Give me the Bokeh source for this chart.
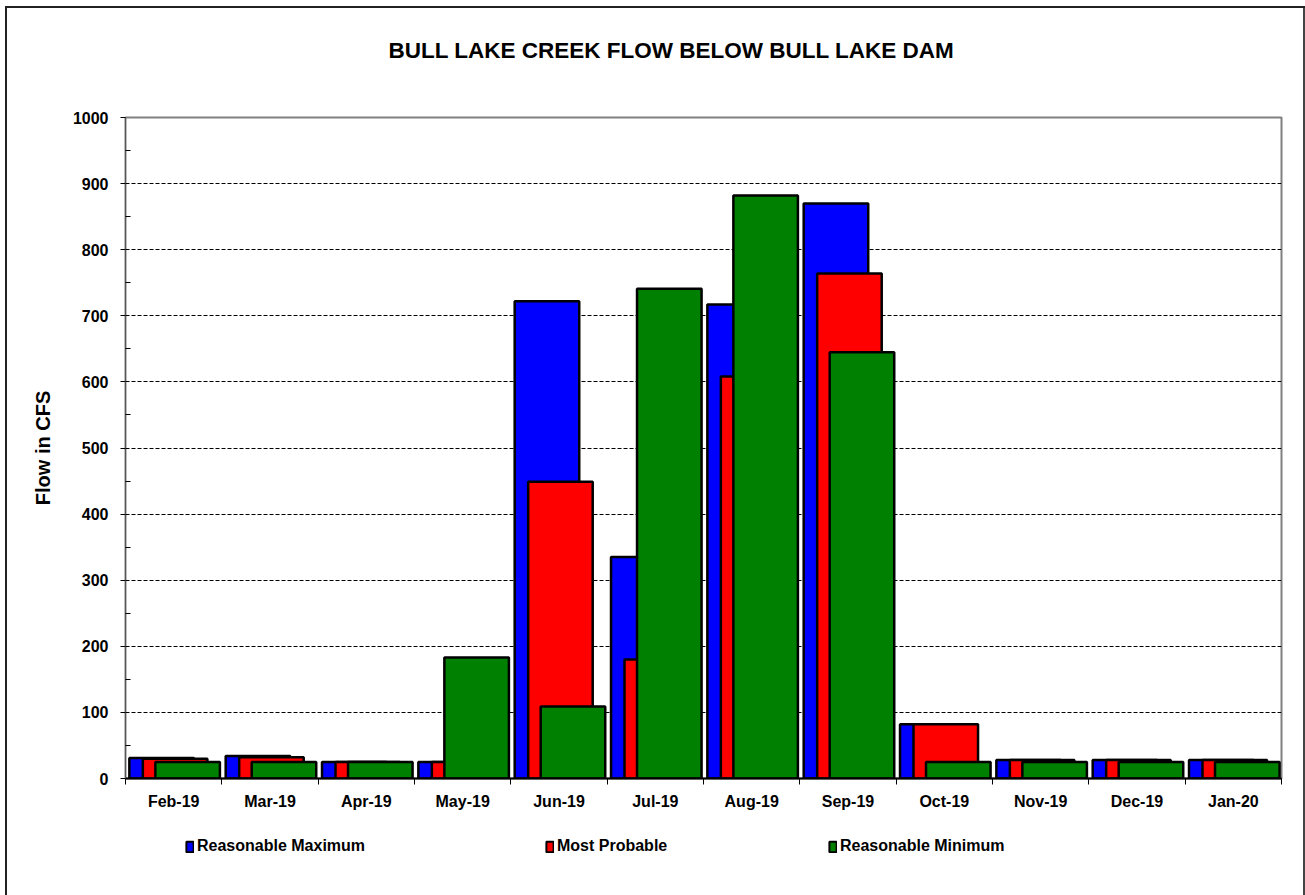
from bokeh.plotting import figure
from bokeh.models import Range1d, FixedTicker, Legend, LegendItem, Label
from bokeh.layouts import column
from bokeh.embed import file_html
from bokeh.resources import INLINE

title_text = "BULL LAKE CREEK FLOW BELOW BULL LAKE DAM"
months = ["Feb-19", "Mar-19", "Apr-19", "May-19", "Jun-19", "Jul-19",
          "Aug-19", "Sep-19", "Oct-19", "Nov-19", "Dec-19", "Jan-20"]
reasonable_max = [31, 34, 25, 25, 722, 335, 717, 870, 82, 28, 28, 28]
most_probable = [30, 32, 25, 25, 449, 180, 608, 764, 82, 28, 28, 28]
reasonable_min = [25, 25, 25, 183, 109, 741, 882, 645, 25, 25, 25, 25]
y_ticks = list(range(0, 1001, 100))
series_names = ["Reasonable Maximum", "Most Probable", "Reasonable Minimum"]
series_colors = ["#0000ff", "#ff0000", "#008000"]

FONT = "Liberation Sans"
n = len(months)
idx = list(range(n))
series = [reasonable_max, most_probable, reasonable_min]

# ---- title strip ----
p0 = figure(width=1305, height=80, output_backend="svg", toolbar_location=None,
            x_range=Range1d(0, 1), y_range=Range1d(0, 80),
            x_axis_type=None, y_axis_type=None, min_border=0)
p0.outline_line_color = None
p0.xgrid.visible = False
p0.ygrid.visible = False
p0.background_fill_alpha = 0
p0.border_fill_alpha = 0
p0.add_layout(Label(x=0.5, y=30, text=title_text, text_align="center", text_baseline="middle",
                    x_offset=-32, text_font=FONT, text_font_style="bold",
                    text_font_size="22.5px", text_color="black"))

# ---- main chart ----
p = figure(width=1305, height=740, output_backend="svg", toolbar_location=None,
           x_range=Range1d(0, n), y_range=Range1d(0, 1000),
           frame_width=1156, frame_height=661,
           min_border_left=125, min_border_right=24, min_border_top=37, min_border_bottom=42)
p.background_fill_color = "white"
p.border_fill_alpha = 0
p.outline_line_color = "#808080"
p.outline_line_width = 2

bw = 0.67
offsets = [0.375, 0.515, 0.645]
for vals, col, off in zip(series, series_colors, offsets):
    p.vbar(x=[i + off for i in idx], top=vals, width=bw, bottom=0,
           fill_color=col, line_color="black", line_width=2.5)

p.xgrid.visible = False
p.ygrid.ticker = FixedTicker(ticks=y_ticks)
p.ygrid.grid_line_color = "black"
p.ygrid.grid_line_dash = "4 2"
p.ygrid.grid_line_width = 1

xa = p.xaxis[0]
xa.ticker = FixedTicker(ticks=[i + 0.5 for i in idx], minor_ticks=list(range(n + 1)))
xa.major_label_overrides = {i + 0.5: m for i, m in zip(idx, months)}
xa.major_tick_line_color = None
xa.major_tick_out = 0
xa.major_tick_in = 0
xa.minor_tick_out = 6
xa.minor_tick_in = 0
xa.minor_tick_line_color = "black"
xa.minor_tick_line_width = 1
xa.axis_line_color = "black"
xa.axis_line_width = 2
xa.major_label_text_font = FONT
xa.major_label_text_font_style = "bold"
xa.major_label_text_font_size = "16px"
xa.major_label_text_color = "black"
xa.major_label_standoff = 8

ya = p.yaxis[0]
ya.ticker = FixedTicker(ticks=y_ticks, minor_ticks=list(range(50, 1000, 100)))
ya.major_tick_out = 5
ya.major_tick_in = 0
ya.minor_tick_out = 0
ya.minor_tick_in = 5
ya.major_tick_line_color = "black"
ya.minor_tick_line_color = "black"
ya.axis_line_color = "#555555"
ya.axis_line_width = 1
ya.major_label_text_font = FONT
ya.major_label_text_font_style = "bold"
ya.major_label_text_font_size = "16px"
ya.major_label_text_color = "black"
ya.major_label_standoff = 12
ya.axis_label = "Flow in CFS"
ya.axis_label_text_font = FONT
ya.axis_label_text_font_style = "bold"
ya.axis_label_text_font_size = "20px"
ya.axis_label_text_color = "black"
ya.axis_label_standoff = 16

# ---- legend strip ----
p2 = figure(width=1305, height=75, output_backend="svg", toolbar_location=None,
            x_range=Range1d(0, n), y_range=Range1d(0, 1000),
            x_axis_type=None, y_axis_type=None, min_border=0)
p2.outline_line_color = None
p2.xgrid.visible = False
p2.ygrid.visible = False
p2.background_fill_alpha = 0
p2.border_fill_alpha = 0
leg_x = [60, 420, 703]
for name, vals, col, xpos in zip(series_names, series, series_colors, leg_x):
    # hidden copy of the series, used only for its legend swatch
    proxy = p2.vbar(x=idx, top=vals, width=bw, fill_color=col, line_color="black",
                    line_width=2, visible=False)
    lg = Legend(items=[LegendItem(label=name, renderers=[proxy])],
                location=(xpos, 40), orientation="horizontal",
                padding=0, margin=0, spacing=0,
                glyph_width=9, glyph_height=13, label_standoff=3, label_height=16,
                label_text_font=FONT, label_text_font_style="bold",
                label_text_font_size="16px", label_text_color="black",
                inactive_fill_alpha=0, click_policy="none",
                border_line_color=None, background_fill_alpha=0)
    p2.add_layout(lg, "center")

layout = column(p0, p, p2, spacing=0)
layout.styles = {"box-shadow": ("inset 5px 0 0 0 white, inset 0 6px 0 0 white, "
                                "inset 7px 0 0 0 #222222, inset 0 8px 0 0 #222222, "
                                "inset -2px 0 0 0 #444444")}

open("out.html", "w").write(file_html(layout, INLINE))
